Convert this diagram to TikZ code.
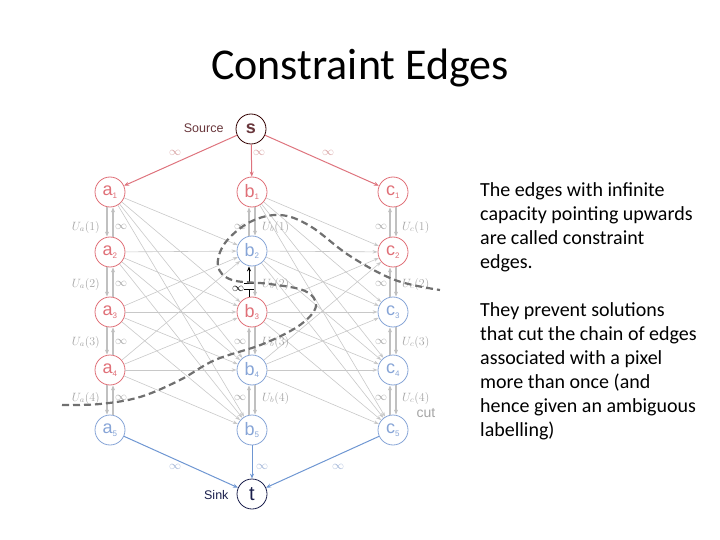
\documentclass[tikz,border=0pt]{standalone}
\usepackage{fontspec}
\setmainfont{Carlito}
\newfontfamily\helv{Liberation Sans}
\usetikzlibrary{arrows.meta}
\definecolor{nred}{RGB}{224,112,120}
\definecolor{nblue}{RGB}{135,165,215}
\definecolor{sred}{RGB}{222,115,125}
\definecolor{tblue}{RGB}{110,150,210}
\definecolor{egray}{RGB}{200,200,200}
\definecolor{cgray}{RGB}{192,192,192}
\definecolor{lgray}{RGB}{165,165,165}
\definecolor{slbl}{RGB}{215,160,160}
\definecolor{tlbl}{RGB}{160,180,215}
\definecolor{cutgray}{RGB}{112,112,112}
\definecolor{srctext}{RGB}{105,55,60}
\definecolor{navy}{RGB}{25,30,75}
\newcommand\sbx[1]{\textsubscript{\fontsize{8}{8}\selectfont #1}}
\tikzset{
 vnode/.style={circle, draw, fill=white, minimum size=30pt, inner sep=0pt, line width=0.8pt, font=\helv\fontsize{18}{18}\selectfont},
 rnode/.style={vnode, draw=nred, text=nred},
 bnode/.style={vnode, draw=nblue, text=nblue},
 cross/.style={draw=egray, line width=0.6pt, -{Stealth[length=5pt,width=3.5pt]}},
 chain/.style={draw=cgray, line width=1.3pt, -{Stealth[length=5pt,width=4pt]}},
 sedge/.style={draw=sred, line width=1pt, -{Stealth[length=5pt,width=4pt]}},
 tedge/.style={draw=tblue, line width=1pt, -{Stealth[length=5pt,width=4pt]}},
 lbl/.style={text=lgray, font=\fontsize{12}{12}\selectfont, inner sep=0pt},
 cutline/.style={draw=cutgray, line width=2.2pt, dash pattern=on 7pt off 4pt},
 body/.style={anchor=north west, align=left, inner sep=0pt, font=\fontsize{20}{24}\selectfont},
}
\begin{document}
\begin{tikzpicture}[x=1pt,y=-1pt]
\useasboundingbox (0,0) rectangle (720,540);
\node[font=\fontsize{44}{44}\selectfont] (title) at (360,68) {Constraint Edges};
% nodes
\node[vnode, draw=black!80!red, text=srctext, font=\helv\bfseries\fontsize{18}{18}\selectfont] (s) at (251,129) {s};
\node[vnode, draw=navy, text=navy, font=\helv\fontsize{20}{20}\selectfont] (t) at (252,494) {t};
\node[rnode] (a1) at (110,192) {a\sbx{1}};
\node[rnode] (a2) at (110,252) {a\sbx{2}};
\node[rnode] (a3) at (110,312) {a\sbx{3}};
\node[rnode] (a4) at (110,370) {a\sbx{4}};
\node[bnode] (a5) at (110,430) {a\sbx{5}};
\node[rnode] (b1) at (252,192) {b\sbx{1}};
\node[bnode] (b2) at (252,251) {b\sbx{2}};
\node[rnode] (b3) at (252,312) {b\sbx{3}};
\node[bnode] (b4) at (252,370) {b\sbx{4}};
\node[bnode] (b5) at (252,430) {b\sbx{5}};
\node[rnode] (c1) at (393,192) {c\sbx{1}};
\node[rnode] (c2) at (393,252) {c\sbx{2}};
\node[bnode] (c3) at (393,312) {c\sbx{3}};
\node[bnode] (c4) at (393,370) {c\sbx{4}};
\node[bnode] (c5) at (393,430) {c\sbx{5}};
% source / sink edges
\draw[sedge] (s) -- (a1);
\draw[sedge] (s) -- (b1);
\draw[sedge] (s) -- (c1);
\draw[tedge] (a5) -- (t);
\draw[tedge] (b5) -- (t);
\draw[tedge] (c5) -- (t);
\node[lbl, text=slbl] (ls1) at (175,153) {$\infty$};
\node[lbl, text=slbl] (ls2) at (259,153) {$\infty$};
\node[lbl, text=slbl] (ls3) at (328,153) {$\infty$};
\node[lbl, text=tlbl] (lt1) at (175,467) {$\infty$};
\node[lbl, text=tlbl] (lt2) at (262,467) {$\infty$};
\node[lbl, text=tlbl] (lt3) at (338,467) {$\infty$};
% cross edges
\foreach \i in {1,2,3,4}{
  \foreach \j in {2,3,4,5}{
    \draw[cross] (a\i) -- (b\j);
    \draw[cross] (b\i) -- (c\j);
  }
}
% chains
\foreach \i/\y in {1/227,2/284,3/342,4/398}{
  \pgfmathtruncatemacro{\j}{\i+1}
  \draw[chain] ([xshift=-3pt]a\i.south) -- ([xshift=-3pt]a\j.north);
  \draw[chain] ([xshift=3pt]a\j.north) -- ([xshift=3pt]a\i.south);
  \draw[chain] ([xshift=3pt]b\i.south) -- ([xshift=3pt]b\j.north);
  \ifnum\i=2\relax\else
  \draw[chain] ([xshift=-3pt]b\j.north) -- ([xshift=-3pt]b\i.south);
  \node[lbl] (lib\i) at (240,\y) {$\infty$};
  \fi
  \draw[chain] ([xshift=3pt]c\i.south) -- ([xshift=3pt]c\j.north);
  \draw[chain] ([xshift=-3pt]c\j.north) -- ([xshift=-3pt]c\i.south);
  \node[lbl, anchor=east] (lua\i) at (100,\y) {$U_a(\i)$};
  \node[lbl] (lia\i) at (121,\y) {$\infty$};
  \node[lbl, anchor=west] (lub\i) at (262,\y) {$U_b(\i)$};
  \node[lbl] (lic\i) at (381,\y) {$\infty$};
  \node[lbl, anchor=west] (luc\i) at (402,\y) {$U_c(\i)$};
}
% constraint edge b3 -> b2 cut
\draw[black, line width=0.8pt] ([xshift=-3pt]b3.north) -- ([xshift=-3pt,yshift=7pt]b3.north);
\draw[black, line width=0.8pt] ([xshift=-8pt,yshift=7pt]b3.north) -- ([xshift=2pt,yshift=7pt]b3.north);
\draw[black, line width=0.8pt] ([xshift=-8pt,yshift=-17pt]b2.south) -- ([xshift=2pt,yshift=-17pt]b2.south);
\draw[black, line width=0.8pt, -{Stealth[length=5pt,width=4pt]}] ([xshift=-3pt,yshift=-17pt]b2.south) -- ([xshift=-3pt]b2.south);
\node[lbl, text=black, font=\fontsize{13}{13}\selectfont] (linf) at (238,289) {$\infty$};
% cut
\draw[cutline] plot[smooth, tension=0.6] coordinates {(62,405) (100,404) (140,397) (180,380) (215,360) (263,344) (300,325) (316,306) (305,291) (270,284) (232,280) (218,266) (225,243) (250,222) (280,215) (310,226) (350,256) (395,280) (440,290)};
\node[text=lgray, font=\helv\fontsize{14}{14}\selectfont] (cut) at (426,413) {cut};
\node[text=srctext, font=\helv\fontsize{12.5}{12.5}\selectfont, anchor=east] (src) at (227,128) {Source};
\node[text=navy, font=\helv\fontsize{12.5}{12.5}\selectfont, anchor=east] (snk) at (232,495) {Sink};
% text
\node[body] (txt) at (480,182) {The edges with infinite\\capacity pointing upwards\\are called constraint\\edges.\\[24pt]They prevent solutions\\that cut the chain of edges\\associated with a pixel\\more than once (and\\hence given an ambiguous\\labelling)};
\end{tikzpicture}
\end{document}
